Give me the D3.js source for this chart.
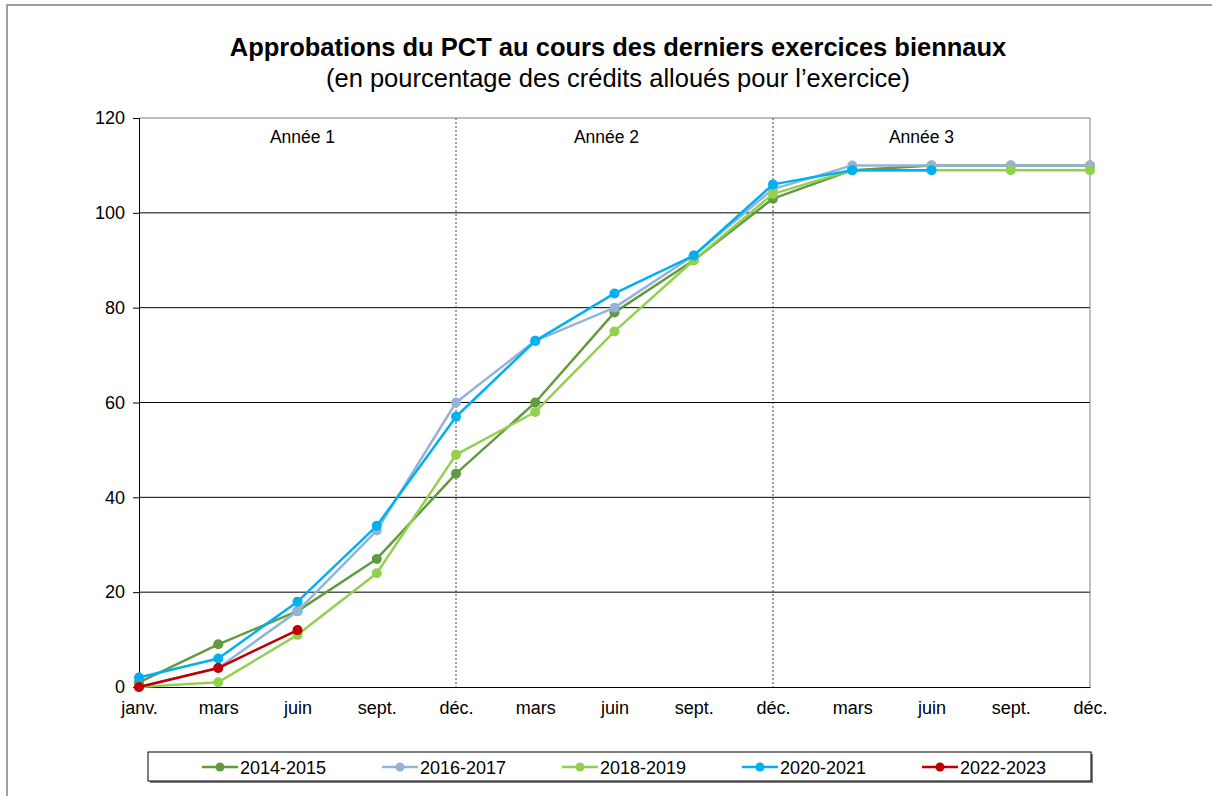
<!DOCTYPE html>
<html>
<head>
<meta charset="utf-8">
<script src="https://cdn.jsdelivr.net/npm/d3@7"></script>
<style>
  body { margin: 0; background: #fff; }
  text { font-family: "Liberation Sans", Arial, sans-serif; fill: #000; }
</style>
</head>
<body>
<div id="chart"></div>
<script>
// Chart data
var months = ['janv.', 'mars', 'juin', 'sept.', 'déc.', 'mars', 'juin', 'sept.', 'déc.', 'mars', 'juin', 'sept.', 'déc.'];
var yearLabels = ['Année 1', 'Année 2', 'Année 3'];
var seriesNames = ['2014-2015', '2016-2017', '2018-2019', '2020-2021', '2022-2023'];
var seriesColors = ['#629b3f', '#95b3d7', '#92d050', '#00b0f0', '#c00000'];

var v2014 = [1, 9, 16, 27, 45, 60, 79, 90, 103, 109, 110, 110, 110];
var v2016 = [0, 4, 16, 33, 60, 73, 80, 91, 105, 110, 110, 110, 110];
var v2018 = [0, 1, 11, 24, 49, 58, 75, 90, 104, 109, 109, 109, 109];
var v2020 = [2, 6, 18, 34, 57, 73, 83, 91, 106, 109, 109];
var v2022 = [0, 4, 12];
var seriesValues = [v2014, v2016, v2018, v2020, v2022];

var yTicks = [0, 20, 40, 60, 80, 100, 120];


// SVG
var W = 1212, H = 796;
var svg = d3.select('#chart')
  .append('svg')
  .attr('width', W)
  .attr('height', H);

// outer frame (only top and left edges fall inside the picture)
svg.append('path')
  .attr('d', 'M7,796 V5 H1212')
  .attr('fill', 'none')
  .attr('stroke', '#808080')
  .attr('stroke-width', 1.5);


// Scales
var x = d3.scaleLinear()
  .domain([0, months.length - 1])
  .range([139, 1090]);

var y = d3.scaleLinear()
  .domain([0, 120])
  .range([687, 118]);


// Titles
svg.append('text')
  .attr('x', 618)
  .attr('y', 56)
  .attr('text-anchor', 'middle')
  .style('font-size', '25.5px')
  .style('font-weight', 'bold')
  .text('Approbations du PCT au cours des derniers exercices biennaux');

svg.append('text')
  .attr('x', 618)
  .attr('y', 87)
  .attr('text-anchor', 'middle')
  .style('font-size', '25.5px')
  .text('(en pourcentage des crédits alloués pour l’exercice)');


// Gridlines
svg.selectAll('.grid')
  .data(yTicks.slice(1))
  .enter()
  .append('line')
  .attr('class', 'grid')
  .attr('x1', x(0))
  .attr('x2', x(months.length - 1))
  .attr('y1', function (d) { return y(d); })
  .attr('y2', function (d) { return y(d); })
  .attr('stroke', function (d) { return d == 120 ? '#808080' : '#000'; })
  .attr('stroke-width', 1);

// right edge of plot area
svg.append('line')
  .attr('x1', x(months.length - 1))
  .attr('x2', x(months.length - 1))
  .attr('y1', y(120))
  .attr('y2', y(0))
  .attr('stroke', '#808080');

// year separators (dotted) at each déc.
svg.selectAll('.sep')
  .data([4, 8])
  .enter()
  .append('line')
  .attr('class', 'sep')
  .attr('x1', function (d) { return x(d); })
  .attr('x2', function (d) { return x(d); })
  .attr('y1', y(120))
  .attr('y2', y(0))
  .attr('stroke', '#404040')
  .attr('stroke-width', 1)
  .attr('stroke-dasharray', '2,2');

// year labels
svg.selectAll('.year')
  .data(yearLabels)
  .enter()
  .append('text')
  .attr('class', 'year')
  .attr('x', function (d, i) { return x(2 + i * 4) + [5, -8, -10][i]; })
  .attr('y', 143)
  .attr('text-anchor', 'middle')
  .style('font-size', '17.5px')
  .text(function (d) { return d; });


// Axes
var yAxis = d3.axisLeft(y)
  .tickValues(yTicks)
  .tickSize(6)
  .tickPadding(8);

var gy = svg.append('g')
  .attr('transform', 'translate(' + x(0) + ',0)')
  .call(yAxis);
gy.select('.domain').attr('stroke', '#000');
gy.selectAll('.tick line').attr('stroke', '#000');
gy.selectAll('.tick text')
  .style('font-size', '18px')
  .style('font-family', '"Liberation Sans", Arial, sans-serif')
  .attr('fill', '#000');

var xAxis = d3.axisBottom(x)
  .tickValues(d3.range(months.length))
  .tickFormat(function (i) { return months[i]; })
  .tickSize(0)
  .tickPadding(14);

var gx = svg.append('g')
  .attr('transform', 'translate(0,' + y(0) + ')')
  .call(xAxis);
gx.select('.domain').attr('stroke', '#000');
gx.selectAll('.tick text')
  .style('font-size', '18px')
  .style('font-family', '"Liberation Sans", Arial, sans-serif')
  .attr('fill', '#000');


// Series lines and markers
var line = d3.line()
  .x(function (d, i) { return x(i); })
  .y(function (d) { return y(d); });

seriesValues.forEach(function (vals, s) {
  var g = svg.append('g');
  g.append('path')
    .datum(vals)
    .attr('d', line)
    .attr('fill', 'none')
    .attr('stroke', seriesColors[s])
    .attr('stroke-width', 2.5)
    .attr('stroke-linejoin', 'round');
  g.selectAll('circle')
    .data(vals)
    .enter()
    .append('circle')
    .attr('cx', function (d, i) { return x(i); })
    .attr('cy', function (d) { return y(d); })
    .attr('r', 5)
    .attr('fill', seriesColors[s]);
});


// Legend
svg.append('rect')
  .attr('x', 150)
  .attr('y', 754)
  .attr('width', 943)
  .attr('height', 29)
  .attr('fill', '#808080');
svg.append('rect')
  .attr('x', 148)
  .attr('y', 752)
  .attr('width', 943)
  .attr('height', 29)
  .attr('fill', '#fff')
  .attr('stroke', '#000')
  .attr('stroke-width', 1);

var legend = svg.selectAll('.leg')
  .data(seriesNames)
  .enter()
  .append('g')
  .attr('class', 'leg')
  .attr('transform', function (d, i) { return 'translate(' + (202 + i * 180) + ',767)'; });

legend.append('line')
  .attr('x1', 0)
  .attr('x2', 36)
  .attr('stroke', function (d, i) { return seriesColors[i]; })
  .attr('stroke-width', 2.5);
legend.append('circle')
  .attr('cx', 18)
  .attr('r', 4.5)
  .attr('fill', function (d, i) { return seriesColors[i]; });
legend.append('text')
  .attr('x', 38)
  .attr('y', 6.5)
  .style('font-size', '18px')
  .text(function (d) { return d; });
</script>
</body>
</html>
